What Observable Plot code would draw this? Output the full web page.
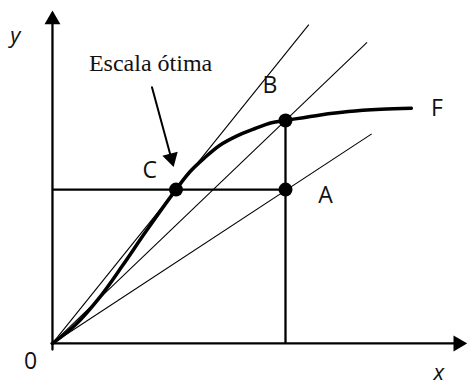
<!DOCTYPE html>
<html>
<head>
<meta charset="utf-8">
<script src="https://cdn.jsdelivr.net/npm/d3@7"></script>
<script src="https://cdn.jsdelivr.net/npm/@observablehq/plot@0.6"></script>
<style>
  html, body { margin: 0; padding: 0; background: #fff; }
</style>
</head>
<body>
<div id="chart"></div>
<script>
// Production curve F (input x, output y), units relative to point B = 100
const curveX = [0, 10, 20, 30, 40, 53, 59, 65, 72, 79, 86, 94, 100, 115, 127, 141, 154];
const curveY = [0, 8.5, 20.3, 34.8, 50.1, 69, 77, 83, 89, 93, 96, 99, 100, 102.5, 104, 105, 105.5];

// Marked points
const pointNames = ["C", "B", "A"];
const pointX = [53, 100, 100];
const pointY = [69, 100, 69];

// Rays from origin (end points)
const rayEndX = [110, 135, 137];
const rayEndY = [143, 135, 94];

// Point labels
const labelText = ["0", "C", "B", "A", "F"];
const labelX = [-9.4, 41.7, 93.3, 117.2, 165];
const labelY = [-8.1, 77.6, 115.7, 66.4, 105.4];

// Axis titles
const axisTitle = ["x", "y"];
const axisTitleX = [165.8, -15.9];
const axisTitleY = [-13.2, 138];

// Axis extents
const xAxisEnd = 178;
const yAxisEnd = 149.3;
const yAxisStart = -2.7;

// Annotation
const noteText = "Escala ótima";
const noteX = 42.1, noteY = 125.6;
const noteArrowFrom = [42.7, 114.9];
const noteArrowTo = [52, 79.1];

const W = 467, H = 388;
const xDomain = [-22.3, 178.1];
const yDomain = [-20.2, 153.8];

const curve = curveX.map((x, i) => ({x, y: curveY[i]}));
const points = pointNames.map((n, i) => ({name: n, x: pointX[i], y: pointY[i]}));
const rays = rayEndX.map((x, i) => ({x1: 0, y1: 0, x2: x, y2: rayEndY[i]}));
const labels = labelText.map((t, i) => ({t, x: labelX[i], y: labelY[i]}));
const titles = axisTitle.map((t, i) => ({t, x: axisTitleX[i], y: axisTitleY[i]}));
const C = points[0], B = points[1], A = points[2];
const guides = [
  {x1: 0, y1: C.y, x2: A.x, y2: A.y},
  {x1: B.x, y1: 0, x2: B.x, y2: B.y}
];

// pixel scales to orient the arrowheads
const xs = Plot.scale({x: {domain: xDomain, range: [0, W]}});
const ys = Plot.scale({y: {domain: yDomain, range: [H, 0]}});
const headR = 5.9;
const headTip = 2 * Math.sqrt(headR * headR * Math.PI / (3 * Math.sqrt(3))); // centroid to tip
function head(x, y, angleDeg) {
  const a = angleDeg * Math.PI / 180;
  return {x, y, rotate: angleDeg, dx: -Math.sin(a) * headTip, dy: Math.cos(a) * headTip};
}
const ndx = xs.apply(noteArrowTo[0]) - xs.apply(noteArrowFrom[0]);
const ndy = ys.apply(noteArrowTo[1]) - ys.apply(noteArrowFrom[1]);
const noteAngle = Math.atan2(ndx, -ndy) * 180 / Math.PI;
const heads = [head(0, yAxisEnd, 0), head(xAxisEnd, 0, 90), head(noteArrowTo[0], noteArrowTo[1], noteAngle)];

const marks = [
  // axes
  Plot.arrow([{x1: 0, y1: yAxisStart, x2: 0, y2: yAxisEnd}], {x1: "x1", y1: "y1", x2: "x2", y2: "y2", headLength: 0, insetEnd: 8, stroke: "black", strokeWidth: 2.3}),
  Plot.arrow([{x1: -0.4, y1: 0, x2: xAxisEnd, y2: 0}], {x1: "x1", y1: "y1", x2: "x2", y2: "y2", headLength: 0, insetEnd: 8, stroke: "black", strokeWidth: 2.3}),
  // rays
  Plot.link(rays, {x1: "x1", y1: "y1", x2: "x2", y2: "y2", stroke: "black", strokeWidth: 1.1}),
  // guides
  Plot.link(guides, {x1: "x1", y1: "y1", x2: "x2", y2: "y2", stroke: "black", strokeWidth: 2.3}),
  // curve
  Plot.line(curve, {x: "x", y: "y", curve: "catmull-rom", stroke: "black", strokeWidth: 3.5}),
  // points
  Plot.dot(points, {x: "x", y: "y", r: 7, fill: "black"}),
  // annotation arrow
  Plot.arrow([{x1: noteArrowFrom[0], y1: noteArrowFrom[1], x2: noteArrowTo[0], y2: noteArrowTo[1]}], {x1: "x1", y1: "y1", x2: "x2", y2: "y2", headLength: 0, insetEnd: 8, stroke: "black", strokeWidth: 2}),
  ...heads.map(h => Plot.dot([h], {x: "x", y: "y", symbol: "triangle", r: headR, fill: "black", rotate: h.rotate, dx: h.dx, dy: h.dy})),
  // labels
  Plot.text(labels, {x: "x", y: "y", text: "t", fontSize: 23, fontFamily: "'Open Sans', sans-serif", fill: "#111"}),
  Plot.text(titles, {x: "x", y: "y", text: "t", fontSize: 22, fontStyle: "italic", fontFamily: "'Open Sans', sans-serif", fill: "#111"}),
  Plot.text([noteText], {x: noteX, y: noteY, text: d => d, fontSize: 24, fontFamily: "'Liberation Serif', 'Times New Roman', serif", fill: "#111"})
];

const chart = Plot.plot({
  width: W,
  height: H,
  margin: 0,
  x: {domain: xDomain, axis: null},
  y: {domain: yDomain, axis: null},
  style: {background: "white"},
  marks
});
document.getElementById("chart").appendChild(chart);
</script>
</body>
</html>
